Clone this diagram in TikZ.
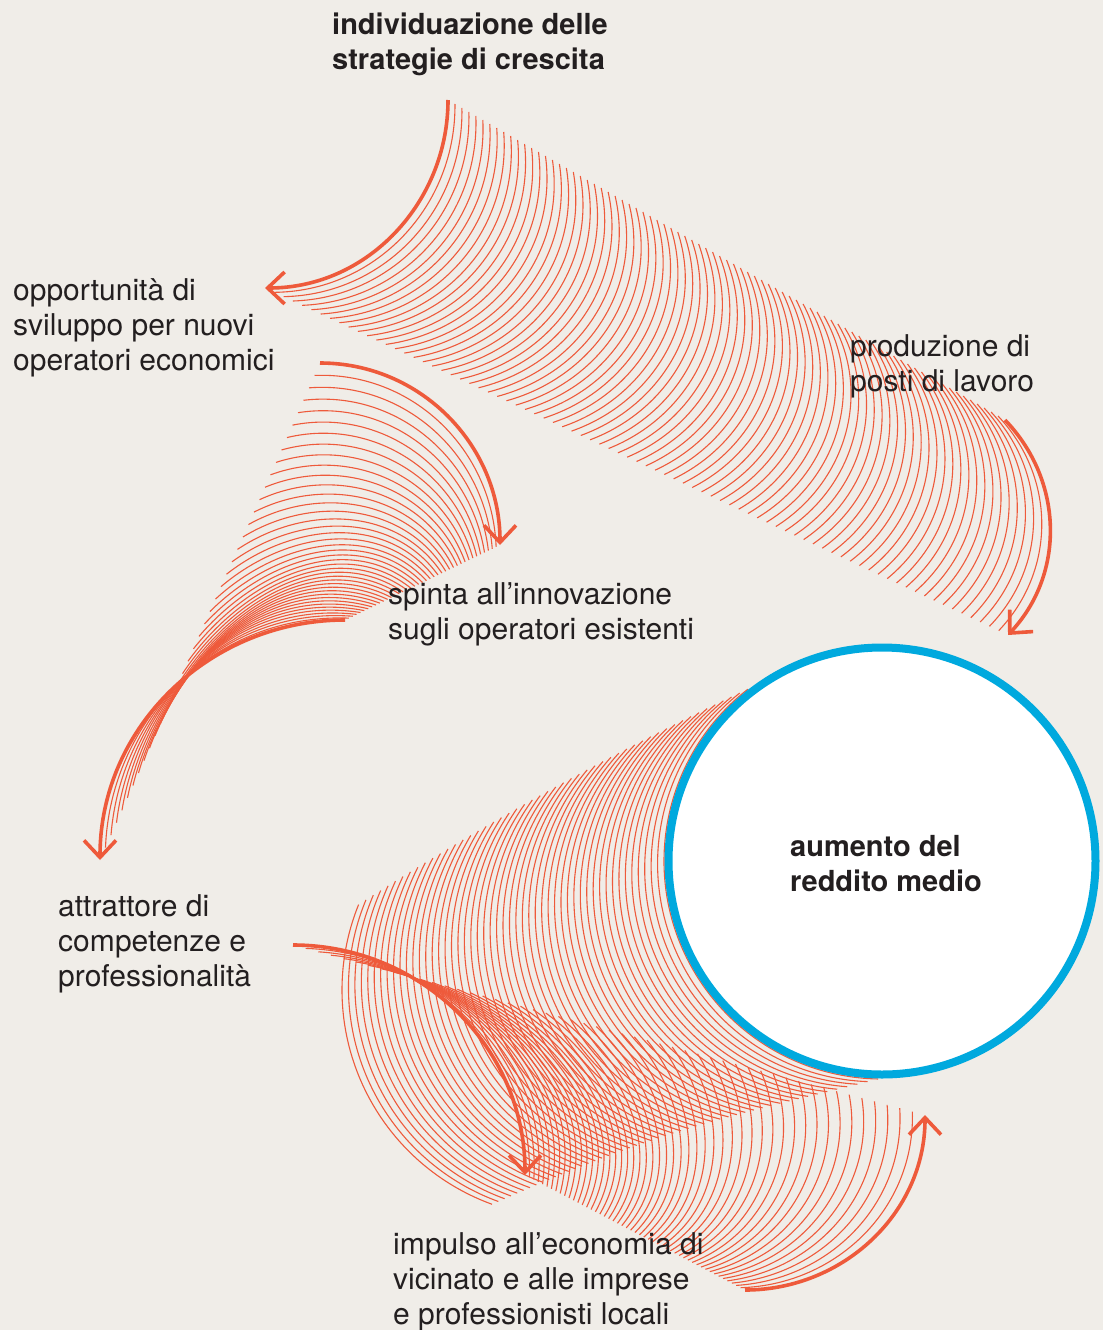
\documentclass[tikz,border=0pt]{standalone}
\usepackage{fontspec}
\setmainfont{TeX Gyre Heros}
\usetikzlibrary{arrows.meta}
\definecolor{sfondo}{HTML}{F0EDE8}
\definecolor{arancio}{HTML}{EE5A3B}
\definecolor{azzurro}{HTML}{00A9DE}
\definecolor{inchiostro}{HTML}{231F20}
\tikzset{
  filo/.style={arancio, line width=1.1pt},
  freccia/.style={arancio, line width=3.6pt},
  voce/.style={anchor=base west, inner sep=0pt, align=left, text=inchiostro,
    font=\fontsize{30}{35}\selectfont},
  titolo/.style={voce, font=\fontsize{29}{35}\selectfont\bfseries}
}

\begin{document}
\begin{tikzpicture}[x=1pt, y=1pt, >={Straight Barb[length=17pt, width=32pt]}]
  \useasboundingbox (0,0) rectangle (1103,-1330);
  \fill[sfondo] (0,0) rectangle (1103,-1330);
  % nastro in alto: strategie -> posti di lavoro
  \foreach \i in {1,...,79}{
    \pgfmathsetmacro\fr{\i/80}
    \pgfmathsetmacro\ao{-90+44*\fr}
    \pgfmathsetmacro\ai{47*\fr}
    \draw[filo] ({448+557*\fr},{-100-320*\fr}) to[out=\ao, in=\ai] ({265+743*\fr},{-288-347*\fr});
  }
  %
  % ventaglio a sinistra: opportunita -> attrattore
  \foreach \i in {1,...,39}{
    \pgfmathsetmacro\fr{\i/40}
    \pgfmathsetmacro\ao{90*\fr}
    \pgfmathsetmacro\ai{90+90*\fr}
    \draw[filo] ({320-220*\fr},{-363-497*\fr}) to[out=\ao, in=\ai] ({500-155*\fr},{-545-75*\fr});
  }
  %
  % archi attorno al cerchio
  \foreach \i in {0,...,50}{
    \pgfmathsetmacro\fr{\i/50}
    \pgfmathsetmacro\cx{882-312*\fr}
    \pgfmathsetmacro\cy{-861-129*\fr}
    \pgfmathsetmacro\rr{218+10*\fr}
    \pgfmathsetmacro\as{128+30*\fr}
    \pgfmathsetmacro\ae{250+19*(1-\fr)^3}
    \draw[filo] (\cx,\cy) ++(\as:\rr) arc[start angle=\as, end angle=\ae, radius=\rr];
  }
  %
  % nastro in basso: attrattore -> impulso
  \foreach \i in {1,...,49}{
    \pgfmathsetmacro\fr{\i/50}
    \pgfmathsetmacro\ao{90-90*\fr}
    \pgfmathsetmacro\ai{-90*\fr}
    \draw[filo] ({525+220*\fr},{-1175-115*\fr}) to[out=\ao, in=\ai] ({293+632*\fr},{-945-170*\fr});
  }
  %
  % frecce spesse
  \draw[freccia, ->] (448,-100) to[out=-90, in=0] (265,-288);
  \draw[freccia, ->] (1005,-420) to[out=-46, in=47] (1008,-635);
  \draw[freccia, ->] (320,-363) to[out=0, in=90] (500,-545);
  \draw[freccia, <-] (100,-860) to[out=90, in=180] (345,-620);
  \draw[freccia, <-] (525,-1175) to[out=90, in=0] (293,-945);
  \draw[freccia, ->] (745,-1290) to[out=0, in=-90] (925,-1115);
  %
  \node[circle, draw=azzurro, fill=white, line width=8pt, minimum size=427pt, inner sep=0pt] (cerchio) at (882,-861) {};
  %
  \node[titolo] (strategie) at (332,-70) {individuazione delle\\strategie di crescita};
  \node[voce] (opportunita) at (13,-370) {opportunità di\\sviluppo per nuovi\\operatori economici};
  \node[voce] (posti) at (850,-391) {produzione di\\posti di lavoro};
  \node[voce] (spinta) at (388,-639) {spinta all’innovazione\\sugli operatori esistenti};
  \node[voce] (attrattore) at (58,-986) {attrattore di\\competenze e\\professionalità};
  \node[titolo] (reddito) at (790,-891) {aumento del\\reddito medio};
  \node[voce] (impulso) at (393,-1324) {impulso all’economia di\\vicinato e alle imprese\\e professionisti locali};
\end{tikzpicture}
\end{document}
